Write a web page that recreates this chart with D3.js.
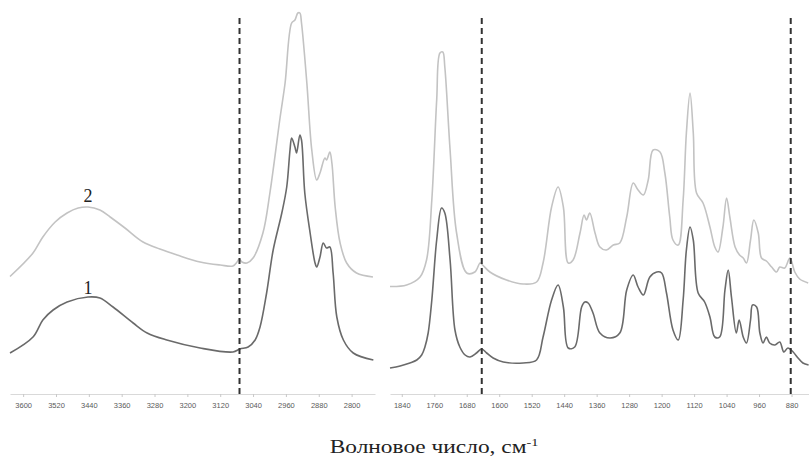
<!DOCTYPE html>
<html>
<head>
<meta charset="utf-8">
<script src="https://cdn.jsdelivr.net/npm/d3@7"></script>
<style>
  body { margin: 0; background: #fff; }
  .tick-label { font-family: "Liberation Sans", Arial, sans-serif; font-size: 7.5px; }
  .num { font-family: "Liberation Serif", "Times New Roman", serif; font-size: 18px; fill: #222; }
</style>
</head>
<body>
<div id="chart"></div>
<script>
// wavenumber (cm-1) / absorbance
const highWn = [3632, 3576, 3552, 3522, 3493, 3466, 3442, 3413, 3388, 3352, 3308, 3267, 3225, 3169, 3120, 3089, 3079, 3074, 3067, 3055, 3040, 3016, 2999, 2974, 2962, 2946, 2938, 2931, 2926, 2922, 2909, 2897, 2885, 2877, 2865, 2861, 2853, 2848, 2840, 2828, 2812, 2788, 2748];
const high2 = [0.237, 0.284, 0.316, 0.346, 0.364, 0.374, 0.376, 0.370, 0.356, 0.334, 0.306, 0.292, 0.280, 0.266, 0.260, 0.258, 0.266, 0.272, 0.266, 0.264, 0.274, 0.324, 0.404, 0.556, 0.624, 0.744, 0.750, 0.764, 0.764, 0.744, 0.624, 0.490, 0.430, 0.444, 0.474, 0.470, 0.486, 0.464, 0.376, 0.304, 0.264, 0.244, 0.236];

const highWn1 = [3632, 3576, 3552, 3527, 3493, 3442, 3413, 3381, 3332, 3298, 3250, 3169, 3089, 3072, 3052, 3035, 3023, 3007, 2991, 2970, 2958, 2950, 2946, 2938, 2934, 2926, 2922, 2914, 2901, 2889, 2885, 2877, 2869, 2861, 2853, 2845, 2836, 2820, 2796, 2747];
const high1 = [0.084, 0.116, 0.150, 0.170, 0.186, 0.196, 0.194, 0.176, 0.144, 0.124, 0.110, 0.094, 0.086, 0.092, 0.096, 0.110, 0.136, 0.204, 0.290, 0.364, 0.416, 0.490, 0.514, 0.496, 0.484, 0.520, 0.510, 0.404, 0.324, 0.264, 0.256, 0.276, 0.304, 0.294, 0.296, 0.244, 0.156, 0.110, 0.084, 0.070];

const lowWn2 = [1869, 1828, 1795, 1779, 1766, 1754, 1746, 1739, 1734, 1721, 1705, 1680, 1660, 1647, 1641, 1623, 1582, 1541, 1508, 1492, 1471, 1455, 1442, 1430, 1418, 1401, 1391, 1385, 1377, 1364, 1352, 1336, 1319, 1303, 1286, 1270, 1258, 1245, 1233, 1221, 1204, 1192, 1180, 1172, 1159, 1147, 1139, 1130, 1122, 1114, 1098, 1081, 1069, 1061, 1049, 1040, 1032, 1019, 1008, 999, 991, 981, 973, 962, 954, 942, 929, 917, 909, 897, 884, 872, 860, 839];
const low2 = [0.217, 0.220, 0.236, 0.270, 0.390, 0.590, 0.684, 0.686, 0.656, 0.490, 0.324, 0.244, 0.246, 0.264, 0.260, 0.246, 0.230, 0.222, 0.226, 0.264, 0.376, 0.416, 0.376, 0.264, 0.270, 0.324, 0.360, 0.350, 0.364, 0.324, 0.296, 0.290, 0.300, 0.304, 0.356, 0.424, 0.410, 0.400, 0.430, 0.490, 0.486, 0.444, 0.356, 0.310, 0.300, 0.390, 0.524, 0.604, 0.524, 0.404, 0.384, 0.336, 0.296, 0.286, 0.336, 0.394, 0.356, 0.296, 0.280, 0.274, 0.264, 0.310, 0.350, 0.324, 0.274, 0.268, 0.256, 0.246, 0.256, 0.254, 0.274, 0.246, 0.232, 0.224];

const lowWn1 = [1869, 1844, 1820, 1803, 1791, 1783, 1775, 1766, 1754, 1742, 1734, 1721, 1709, 1697, 1684, 1672, 1656, 1643, 1631, 1615, 1590, 1541, 1508, 1492, 1471, 1455, 1442, 1430, 1414, 1397, 1389, 1381, 1369, 1352, 1327, 1303, 1286, 1270, 1258, 1245, 1229, 1212, 1200, 1188, 1172, 1159, 1147, 1139, 1130, 1122, 1110, 1094, 1081, 1069, 1057, 1044, 1036, 1028, 1016, 1009, 999, 991, 981, 976, 966, 958, 950, 942, 934, 921, 909, 899, 889, 876, 864, 852, 838];
const low1 = [0.054, 0.058, 0.064, 0.070, 0.080, 0.096, 0.124, 0.190, 0.310, 0.374, 0.364, 0.270, 0.130, 0.096, 0.080, 0.076, 0.084, 0.092, 0.084, 0.074, 0.066, 0.064, 0.070, 0.116, 0.190, 0.220, 0.176, 0.094, 0.096, 0.176, 0.186, 0.184, 0.164, 0.124, 0.114, 0.124, 0.210, 0.240, 0.216, 0.200, 0.236, 0.246, 0.244, 0.204, 0.130, 0.110, 0.190, 0.290, 0.336, 0.310, 0.204, 0.186, 0.156, 0.116, 0.116, 0.210, 0.250, 0.196, 0.124, 0.150, 0.116, 0.104, 0.150, 0.180, 0.176, 0.124, 0.104, 0.116, 0.104, 0.100, 0.106, 0.086, 0.094, 0.086, 0.074, 0.064, 0.060];

const highTicks = [3600, 3520, 3440, 3360, 3280, 3200, 3120, 3040, 2960, 2880, 2800];
const lowTicks = [1840, 1760, 1680, 1600, 1520, 1440, 1360, 1280, 1200, 1120, 1040, 960, 880];
const highMarks = [3073];
const lowMarks = [1643, 882];

const width = 809, height = 461;
const axisY = 394;

const svg = d3.select('#chart').append('svg')
  .attr('width', width)
  .attr('height', height);

const y = d3.scaleLinear().domain([0, 0.78]).range([395, 5]);

const panels = [
  { x: d3.scaleLinear().domain([3632, 2743]).range([10, 375]), ticks: highTicks, marks: highMarks,
    curves: [[highWn, high2, '#c3c3c3'], [highWn1, high1, '#6a6a6a']] },
  { x: d3.scaleLinear().domain([1869, 837]).range([390, 809]), ticks: lowTicks, marks: lowMarks,
    curves: [[lowWn2, low2, '#c3c3c3'], [lowWn1, low1, '#6a6a6a']] },
];

panels.forEach((p) => {
  const g = svg.append('g');

  // axis line + ticks
  const axis = g.append('g')
    .attr('transform', `translate(0,${axisY})`)
    .call(d3.axisBottom(p.x).tickValues(p.ticks).tickFormat(d3.format('d'))
      .tickSize(3).tickPadding(6).tickSizeOuter(0));
  axis.attr('font-family', null).attr('font-size', null);
  axis.select('.domain').attr('stroke', '#d9d9d9');
  axis.selectAll('.tick line').attr('stroke', '#c8c8c8');
  axis.selectAll('.tick text').attr('class', 'tick-label').attr('fill', '#5a5a5a');

  const line = d3.line()
    .x(d => p.x(d[0]))
    .y(d => y(d[1]))
    .curve(d3.curveCatmullRom.alpha(0.5));

  p.curves.forEach(([wn, vals, color]) => {
    g.append('path')
      .datum(wn.map((w, i) => [w, vals[i]]))
      .attr('fill', 'none')
      .attr('stroke', color)
      .attr('stroke-width', 1.6)
      .attr('d', line);
  });

  g.selectAll('.mark')
    .data(p.marks)
    .enter().append('line')
    .attr('class', 'mark')
    .attr('x1', d => p.x(d))
    .attr('x2', d => p.x(d))
    .attr('y1', 18)
    .attr('y2', 398)
    .attr('stroke', '#333')
    .attr('stroke-width', 2)
    .attr('stroke-dasharray', '6,4');
});

// curve numbers
const xHigh = panels[0].x;
svg.append('text').attr('class', 'num').attr('text-anchor', 'middle')
  .attr('x', xHigh(3442)).attr('y', 202).text('2');
svg.append('text').attr('class', 'num').attr('text-anchor', 'middle')
  .attr('x', xHigh(3442)).attr('y', 294).text('1');

// x axis title (source image is stretched horizontally)
const title = svg.append('text')
  .attr('class', 'num')
  .attr('text-anchor', 'middle')
  .attr('transform', 'translate(434,453) scale(1.3,1)');
title.append('tspan').text('Волновое число, см');
title.append('tspan').attr('font-size', '11px').attr('dy', -7).text('-1');
</script>
</body>
</html>
